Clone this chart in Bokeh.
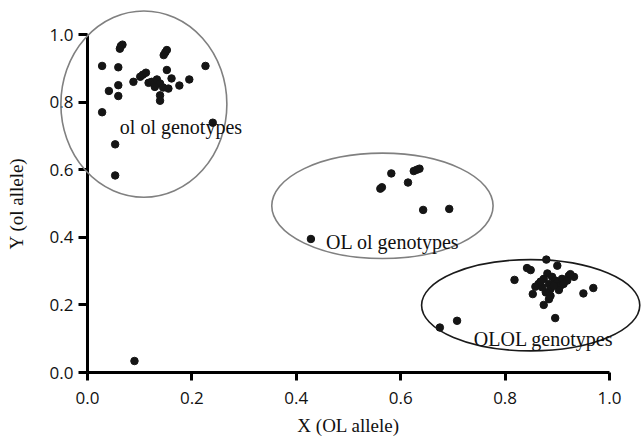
from bokeh.plotting import figure
from bokeh.models import LinearAxis, Range1d, FixedTicker, PrintfTickFormatter
from bokeh.core.properties import value
from bokeh.embed import file_html
from bokeh.resources import INLINE

# ---- data ----
olol_x = [0.028, 0.059, 0.064, 0.067, 0.062, 0.041, 0.059, 0.059, 0.028, 0.053, 0.053,
          0.240, 0.226, 0.152, 0.149, 0.146, 0.088, 0.101, 0.106, 0.112, 0.117, 0.123,
          0.128, 0.133, 0.139, 0.129, 0.145, 0.155, 0.139, 0.139, 0.152, 0.161, 0.176, 0.195,
          0.090]
olol_y = [0.907, 0.903, 0.966, 0.970, 0.958, 0.833, 0.850, 0.818, 0.770, 0.675, 0.583,
          0.739, 0.907, 0.954, 0.947, 0.939, 0.860, 0.875, 0.881, 0.887, 0.857, 0.860,
          0.853, 0.867, 0.855, 0.845, 0.843, 0.840, 0.820, 0.804, 0.895, 0.870, 0.849, 0.867,
          0.034]

het_x = [0.564, 0.561, 0.582, 0.614, 0.625, 0.631, 0.636, 0.643, 0.693, 0.428]
het_y = [0.548, 0.544, 0.589, 0.562, 0.596, 0.600, 0.603, 0.481, 0.484, 0.395]

OL_x = [0.879, 0.842, 0.849, 0.900, 0.818, 0.969, 0.950, 0.853, 0.874, 0.896, 0.708, 0.675,
        0.881, 0.890, 0.896, 0.874, 0.864, 0.858, 0.884, 0.900, 0.909, 0.922, 0.932, 0.919,
        0.906, 0.903, 0.887, 0.878, 0.887, 0.884, 0.871, 0.893, 0.868, 0.912, 0.925]
OL_y = [0.334, 0.309, 0.303, 0.316, 0.274, 0.250, 0.234, 0.232, 0.200, 0.161, 0.153, 0.133,
        0.293, 0.283, 0.272, 0.277, 0.262, 0.254, 0.262, 0.266, 0.277, 0.286, 0.283, 0.272,
        0.257, 0.244, 0.247, 0.237, 0.227, 0.217, 0.252, 0.257, 0.269, 0.262, 0.291]

# cluster ellipses: centre x, centre y, width, height
ell_cx = [0.108, 0.565, 0.849]
ell_cy = [0.794, 0.493, 0.199]
ell_w = [0.318, 0.424, 0.418]
ell_h = [0.551, 0.312, 0.270]
ell_color = ["#808080", "#808080", "#1a1a1a"]

group_labels = ["ol ol genotypes", "OL ol genotypes", "OLOL genotypes"]
label_x = [0.062, 0.457, 0.740]
label_y = [0.726, 0.385, 0.0985]

ticks = [0.0, 0.2, 0.4, 0.6, 0.8, 1.0]

# ---- figure ----
p = figure(width=641, height=441, x_range=Range1d(0, 1.0), y_range=Range1d(0, 1.0),
           x_axis_type=None, y_axis_type=None, output_backend="svg", toolbar_location=None,
           min_border_left=87, min_border_right=32, min_border_top=34, min_border_bottom=69)
p.outline_line_color = None
p.background_fill_color = "white"
p.border_fill_color = "white"

pts_x = olol_x + het_x + OL_x
pts_y = olol_y + het_y + OL_y
p.scatter(pts_x, pts_y, size=7.5, fill_color="#151515", line_color="#151515")

p.ellipse(x=ell_cx, y=ell_cy, width=ell_w, height=ell_h, fill_color=None,
          line_color=ell_color, line_width=1.6, level="overlay")

p.text(x=label_x, y=label_y, text=group_labels, text_font=value("Liberation Serif"),
       text_font_size="20px", text_color="#111111", text_baseline="alphabetic", text_align="left",
       level="overlay")

def style(ax, label):
    ax.ticker = FixedTicker(ticks=ticks)
    ax.formatter = PrintfTickFormatter(format="%.1f")
    ax.bounds = (0, 1)
    ax.axis_label = label
    ax.axis_label_text_font = "Liberation Serif"
    ax.axis_label_text_font_size = "19px"
    ax.axis_label_text_font_style = "normal"
    ax.axis_label_text_color = "#111111"
    ax.major_label_text_font = "Open Sans"
    ax.major_label_text_font_size = "17px"
    ax.major_label_text_color = "#111111"
    ax.axis_line_width = 3
    ax.axis_line_color = "black"
    ax.major_tick_line_width = 3
    ax.major_tick_line_color = "black"
    ax.major_tick_in = 0
    ax.minor_tick_line_color = None

xaxis = LinearAxis()
style(xaxis, "X (OL allele)")
xaxis.major_tick_out = 8
xaxis.major_label_standoff = 11
xaxis.axis_label_standoff = 8
p.add_layout(xaxis, "below")

yaxis = LinearAxis()
style(yaxis, "Y (ol allele)")
yaxis.major_tick_out = 9
yaxis.major_label_standoff = 5
yaxis.axis_label_standoff = 20
p.add_layout(yaxis, "left")

open("out.html", "w").write(file_html(p, INLINE))
